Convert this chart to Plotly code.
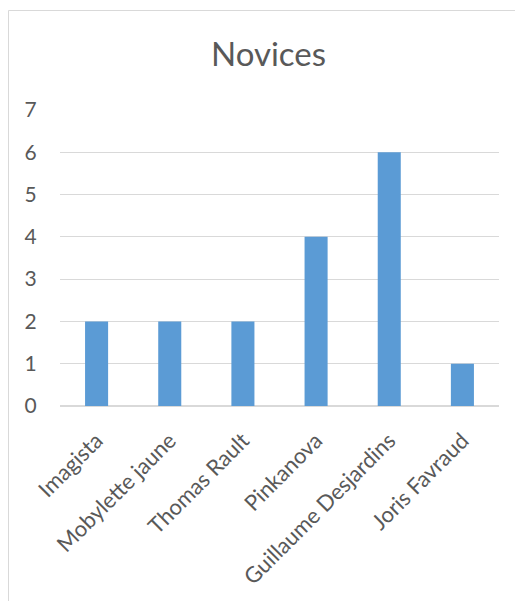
import plotly.graph_objects as go

categories = ["Imagista", "Mobylette jaune", "Thomas Rault", "Pinkanova",
              "Guillaume Desjardins", "Joris Favraud"]
values = [2, 2, 2, 4, 6, 1]
y_ticks = [0, 1, 2, 3, 4, 5, 6, 7]

W, H = 523, 601
# page is shown with an 8px body margin, so figure coords = page coords - 8
L, R, T, B = 52, 32, 102, 203
FONT = "Lato, Carlito, Calibri, sans-serif"
TXT = "#595959"
GRID = "#D9D9D9"

fig = go.Figure(go.Bar(
    x=categories, y=values,
    marker=dict(color="#5B9BD5", line=dict(width=0)),
    hoverinfo="x+y",
))

pw = W - L - R
ph = H - T - B
def px_x(p):
    return (p - L) / pw
def px_y(p):
    return 1 - (p - T) / ph

fig.update_layout(
    width=W, height=H,
    margin=dict(l=L, r=R, t=T, b=B),
    paper_bgcolor="white", plot_bgcolor="white",
    bargap=0.685,
    showlegend=False,
    font=dict(family=FONT, color=TXT, size=21),
    title=dict(text="Novices", x=260.5 / W, xref="container", xanchor="center",
               y=1 - 46 / H, yref="container", yanchor="middle",
               font=dict(family=FONT, size=33, color=TXT)),
    xaxis=dict(tickangle=-45, showgrid=False, showline=False, zeroline=False,
               ticks="outside", ticklen=12, tickcolor="rgba(0,0,0,0)",
               tickfont=dict(family=FONT, size=22, color=TXT)),
    yaxis=dict(range=[0, 7], tickvals=y_ticks, showgrid=True, gridcolor=GRID,
               gridwidth=1, zeroline=True, zerolinecolor=GRID, zerolinewidth=1.5,
               showline=False, ticks="outside", ticklen=18,
               tickcolor="rgba(0,0,0,0)",
               tickfont=dict(family=FONT, size=21, color=TXT)),
    shapes=[dict(type="rect", xref="paper", yref="paper",
                 x0=px_x(0.5), x1=px_x(540), y0=px_y(2.5), y1=px_y(620),
                 line=dict(color=GRID, width=1), layer="below")],
)

fig.write_html("out.html")
